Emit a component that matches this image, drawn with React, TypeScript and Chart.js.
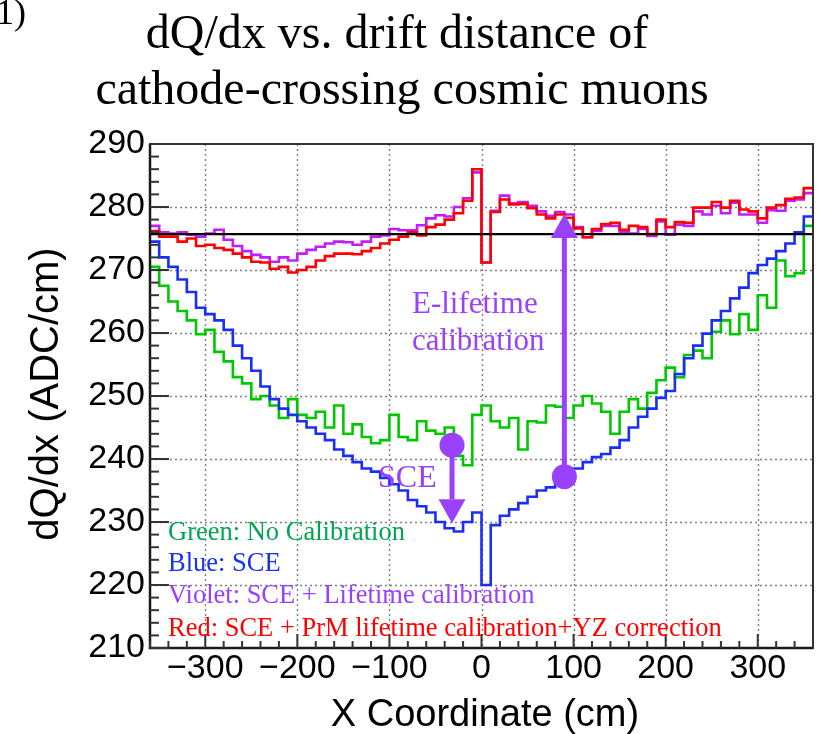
import React, { useEffect, useRef } from 'react';
import { Chart, registerables } from 'chart.js';

Chart.register(...registerables);

// ---------- axis / binning ----------
const BIN_START = -360; // cm, left edge of first bin
const BIN_WIDTH = 10; // cm
const X_MIN = -360;
const X_MAX = 360;
const Y_MIN = 210;
const Y_MAX = 290;
const X_TICKS = [-300, -200, -100, 0, 100, 200, 300];
const Y_TICKS = [210, 220, 230, 240, 250, 260, 270, 280, 290];
const X_MINOR_STEP = 20;
const Y_MINOR_STEP = 2;

// ---------- series (dQ/dx, ADC/cm, one value per 10 cm bin from -360 to 360) ----------
const GREEN_NO_CALIB = [
  270.5, 267.5, 265.0, 263.5, 262.0, 259.8, 260.5, 257.0, 255.5, 253.0, 252.0, 249.5,
  250.0, 248.5, 246.5, 249.5, 247.0, 246.5, 247.5, 245.0, 248.5, 244.0, 245.5, 243.5,
  242.5, 243.0, 247.0, 243.5, 243.0, 246.0, 244.5, 244.0, 245.0, 240.5, 239.0, 247.0,
  248.5, 246.0, 245.0, 246.5, 241.5, 246.0, 245.8, 248.5, 248.3, 246.5, 248.5, 250.0,
  248.8, 247.5, 244.0, 247.5, 249.5, 248.0, 250.5, 252.5, 254.5, 253.0, 256.5, 257.2,
  256.0, 260.2, 262.0, 259.8, 263.0, 260.5, 266.0, 264.0, 271.5, 269.0, 269.5, 277.0,
];
const BLUE_SCE = [
  274.5, 272.0, 270.5, 268.5, 266.5, 264.0, 263.0, 262.0, 260.5, 258.0, 256.0, 254.0,
  251.5, 249.5, 248.0, 247.0, 246.0, 245.0, 244.0, 243.0, 241.5, 240.5, 239.5, 238.5,
  238.0, 237.0, 236.0, 235.0, 233.5, 232.5, 231.5, 230.0, 229.0, 228.5, 230.0, 231.5,
  220.0, 229.5, 231.0, 232.0, 233.0, 234.0, 235.0, 235.5, 236.5, 237.5, 238.5, 239.5,
  240.3, 240.8, 241.8, 243.0, 245.0, 246.7, 248.0, 249.7, 250.8, 253.5, 256.0, 258.0,
  259.9, 262.0, 263.5, 265.5, 267.2, 269.5, 270.8, 271.8, 273.0, 274.2, 276.0, 278.5,
];
const VIOLET_SCE_LIFETIME = [
  277.0, 276.0, 275.8, 276.0, 275.6, 275.3, 275.8, 276.4, 274.8, 273.8, 273.0, 272.4,
  272.0, 271.3, 272.0, 271.5, 272.6, 273.2, 273.7, 274.2, 274.5, 274.4, 274.0, 274.5,
  275.3, 275.5, 276.5, 276.3, 276.3, 277.1, 278.2, 278.7, 278.5, 280.0, 281.4, 285.5,
  271.2, 279.4, 281.8, 280.6, 280.8, 280.2, 279.3, 278.6, 279.2, 278.8, 276.8, 275.2,
  276.2, 277.0, 277.0, 276.0, 275.8, 276.5, 275.4, 277.7, 275.6, 277.2, 277.0, 279.3,
  278.8, 280.2, 279.0, 280.7, 278.8, 278.8, 277.5, 279.5, 279.4, 281.0, 281.2, 282.2,
];
const RED_SCE_PRM_YZ = [
  276.2, 275.3, 275.3, 274.5, 275.0, 273.8, 274.0, 273.5, 273.2, 272.6, 272.0, 271.3,
  271.2, 270.2, 270.5, 269.6, 270.0, 270.5, 271.5, 272.2, 272.6, 272.6, 272.5, 273.0,
  273.5, 274.2, 274.8, 275.3, 276.0, 275.5, 276.8, 277.2, 278.0, 279.0, 281.0, 286.0,
  271.2, 279.2, 281.2, 280.4, 280.5, 279.8, 278.8, 278.2, 278.8, 278.3, 276.6, 275.2,
  276.5, 277.3, 277.5, 276.4, 277.0, 276.8, 275.7, 278.0, 276.8, 277.6, 277.5, 279.9,
  279.9, 280.8, 279.9, 281.0, 279.6, 279.3, 278.2, 279.9, 280.3, 281.3, 281.5, 283.0,
];
const REFERENCE_LEVEL = 275.7;

// annotation arrows (data units)
const SCE_ARROW = { x: -32, from: 242.2, to: 229.8 };
const LIFETIME_ARROW = { x: 90, from: 237.2, to: 278.9 };

const LEGEND_LINES = [
  { text: 'Green: No Calibration', color: '#00a651' },
  { text: 'Blue: SCE', color: '#1533f0' },
  { text: 'Violet: SCE + Lifetime calibration', color: '#9a40ff' },
  { text: 'Red: SCE + PrM lifetime calibration+YZ correction', color: '#ff0000' },
];

const SERIF = '"Liberation Serif", "Times New Roman", Times, serif';
const SANS = '"Liberation Sans", Arial, Helvetica, sans-serif';
const ARROW_COLOR = '#9a40ff';

function histPoints(values: number[]) {
  const pts = values.map((v, i) => ({ x: BIN_START + i * BIN_WIDTH, y: v }));
  pts.push({ x: BIN_START + values.length * BIN_WIDTH, y: values[values.length - 1] });
  return pts;
}

function fmtTick(v: number) {
  return v < 0 ? '\u2212' + Math.abs(v) : String(v);
}

function drawArrow(ctx: CanvasRenderingContext2D, chart: any, a: { x: number; from: number; to: number }) {
  const xs = chart.scales.x;
  const ys = chart.scales.y;
  const px = xs.getPixelForValue(a.x);
  const y0 = ys.getPixelForValue(a.from);
  const y1 = ys.getPixelForValue(a.to);
  const dir = y1 > y0 ? 1 : -1;
  const headLen = 24;
  const headHalf = 13.5;
  const yb = y1 - dir * headLen;
  ctx.save();
  ctx.strokeStyle = ARROW_COLOR;
  ctx.fillStyle = ARROW_COLOR;
  ctx.lineWidth = 5;
  ctx.beginPath();
  ctx.moveTo(px, y0);
  ctx.lineTo(px, yb);
  ctx.stroke();
  ctx.beginPath();
  ctx.moveTo(px - headHalf, yb);
  ctx.lineTo(px + headHalf, yb);
  ctx.lineTo(px, y1);
  ctx.closePath();
  ctx.fill();
  ctx.beginPath();
  ctx.arc(px, y0, 12.5, 0, Math.PI * 2);
  ctx.fill();
  ctx.restore();
}

const decorPlugin = {
  id: 'decor',
  beforeDatasetsDraw(chart: any) {
    const { ctx, chartArea: a, scales } = chart;
    const xs = scales.x;
    const ys = scales.y;
    ctx.save();
    ctx.strokeStyle = '#808080';
    ctx.lineWidth = 1.4;
    ctx.setLineDash([2, 3]);
    X_TICKS.forEach((v) => {
      const px = Math.round(xs.getPixelForValue(v)) + 0.5;
      ctx.beginPath();
      ctx.moveTo(px, a.top);
      ctx.lineTo(px, a.bottom);
      ctx.stroke();
    });
    Y_TICKS.forEach((v) => {
      if (v === Y_MIN || v === Y_MAX) return;
      const py = Math.round(ys.getPixelForValue(v)) + 0.5;
      ctx.beginPath();
      ctx.moveTo(a.left, py);
      ctx.lineTo(a.right, py);
      ctx.stroke();
    });
    ctx.restore();
  },
  afterDatasetsDraw(chart: any) {
    const { ctx, chartArea: a, scales } = chart;
    const xs = scales.x;
    const ys = scales.y;
    ctx.save();
    // frame
    ctx.strokeStyle = '#333';
    ctx.lineWidth = 2;
    ctx.strokeRect(a.left, a.top, a.right - a.left, a.bottom - a.top);
    ctx.strokeStyle = '#1a1a1a';
    ctx.lineWidth = 2.5;
    ctx.beginPath();
    ctx.moveTo(a.left, a.top);
    ctx.lineTo(a.left, a.bottom);
    ctx.lineTo(a.right, a.bottom);
    ctx.stroke();

    // inward ticks (ROOT style)
    ctx.strokeStyle = '#333';
    ctx.lineWidth = 2;
    for (let v = Y_MIN; v <= Y_MAX; v += Y_MINOR_STEP) {
      const major = Y_TICKS.includes(v);
      const py = ys.getPixelForValue(v);
      ctx.beginPath();
      ctx.moveTo(a.left, py);
      ctx.lineTo(a.left + (major ? 19 : 9), py);
      ctx.stroke();
    }
    for (let v = X_MIN; v <= X_MAX; v += X_MINOR_STEP) {
      const major = X_TICKS.includes(v);
      const px = xs.getPixelForValue(v);
      ctx.beginPath();
      ctx.moveTo(px, a.bottom);
      ctx.lineTo(px, a.bottom - (major ? 14 : 7));
      ctx.stroke();
    }

    // arrows
    drawArrow(ctx, chart, SCE_ARROW);
    drawArrow(ctx, chart, LIFETIME_ARROW);

    // annotation texts
    ctx.fillStyle = ARROW_COLOR;
    ctx.textAlign = 'left';
    ctx.textBaseline = 'alphabetic';
    ctx.font = `32px ${SERIF}`;
    ctx.fillText('SCE', 378, 487);
    ctx.font = `31px ${SERIF}`;
    ctx.fillText('E-lifetime', 412, 313);
    ctx.fillText('calibration', 412, 350);

    // legend texts
    ctx.font = `26.5px ${SERIF}`;
    const baselines = [540, 571, 603, 636];
    LEGEND_LINES.forEach((l, i) => {
      ctx.fillStyle = l.color;
      ctx.fillText(l.text, 168, baselines[i]);
    });

    // titles
    ctx.fillStyle = '#000';
    ctx.textAlign = 'center';
    ctx.font = `48px ${SERIF}`;
    ctx.fillText('dQ/dx vs. drift distance of', 397, 48);
    ctx.fillText('cathode-crossing cosmic muons', 402, 104);
    ctx.textAlign = 'left';
    ctx.font = `36px ${SERIF}`;
    ctx.fillText('1)', -4, 24);

    // axis titles
    ctx.textAlign = 'center';
    ctx.font = `38px ${SANS}`;
    ctx.fillText('X Coordinate (cm)', 485, 726);
    ctx.save();
    ctx.translate(58, 394);
    ctx.rotate(-Math.PI / 2);
    ctx.font = `40px ${SANS}`;
    ctx.fillText('dQ/dx (ADC/cm)', 0, 0);
    ctx.restore();
    ctx.restore();
  },
};

export default function App() {
  const canvasRef = useRef<HTMLCanvasElement | null>(null);

  useEffect(() => {
    const canvas = canvasRef.current;
    if (!canvas) return;
    const line = (data: any, color: string, order: number, width = 2.6) => ({
      data,
      borderColor: color,
      borderWidth: width,
      pointRadius: 0,
      fill: false,
      tension: 0,
      stepped: 'before' as const,
      order,
    });
    const chart = new Chart(canvas, {
      type: 'line',
      data: {
        datasets: [
          line([{ x: X_MIN, y: REFERENCE_LEVEL }, { x: X_MAX, y: REFERENCE_LEVEL }], '#000000', 0, 2.4),
          line(histPoints(RED_SCE_PRM_YZ), '#ff0000', 1),
          line(histPoints(VIOLET_SCE_LIFETIME), '#c21cff', 2),
          line(histPoints(BLUE_SCE), '#1a2ef5', 3),
          line(histPoints(GREEN_NO_CALIB), '#00c800', 4),
        ],
      },
      options: {
        responsive: false,
        animation: false,
        devicePixelRatio: 1,
        layout: { padding: { left: 0, top: 144, right: 14, bottom: 0 } },
        plugins: {
          legend: { display: false },
          title: { display: false },
          tooltip: { enabled: false },
        },
        scales: {
          x: {
            type: 'linear',
            min: X_MIN,
            max: X_MAX,
            afterBuildTicks: (s: any) => {
              s.ticks = X_TICKS.map((v) => ({ value: v }));
            },
            afterFit: (s: any) => {
              s.height = 86;
            },
            grid: { display: false, drawTicks: false },
            border: { display: false },
            ticks: {
              autoSkip: false,
              maxRotation: 0,
              padding: 0,
              color: '#000',
              font: { family: SANS, size: 34 },
              callback: (v: any) => fmtTick(Number(v)),
            },
          },
          y: {
            type: 'linear',
            min: Y_MIN,
            max: Y_MAX,
            afterBuildTicks: (s: any) => {
              s.ticks = Y_TICKS.map((v) => ({ value: v }));
            },
            afterFit: (s: any) => {
              s.width = 150;
            },
            grid: { display: false, drawTicks: false },
            border: { display: false },
            ticks: {
              autoSkip: false,
              padding: 5,
              color: '#000',
              font: { family: SANS, size: 34 },
              callback: (v: any) => fmtTick(Number(v)),
            },
          },
        },
      },
      plugins: [decorPlugin],
    });
    return () => chart.destroy();
  }, []);

  return (
    <div style={{ position: 'absolute', left: 0, top: 0, width: 827, height: 734, background: '#fff' }}>
      <canvas ref={canvasRef} width={827} height={734} style={{ display: 'block' }} />
    </div>
  );
}
